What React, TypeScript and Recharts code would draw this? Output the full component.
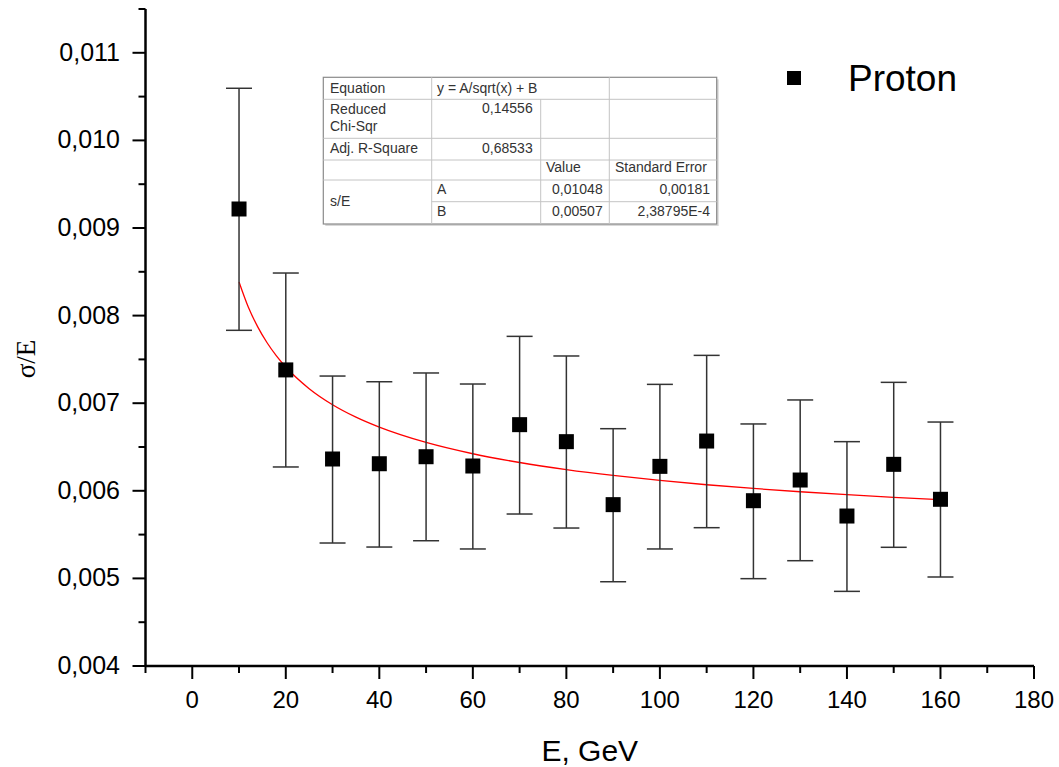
import React from "react";
import { ComposedChart, XAxis, YAxis, Scatter, Line, ErrorBar } from "recharts";

// ---- data ----
const energies = [10, 20, 30, 40, 50, 60, 70, 80, 90, 100, 110, 120, 130, 140, 150, 160];
const sigmaOverE = [
  0.009217, 0.00738, 0.006363, 0.006309, 0.006389, 0.006283, 0.006755, 0.006561,
  0.005842, 0.006279, 0.006568, 0.005887, 0.006123, 0.005712, 0.006302, 0.005903,
];
const errorUpper = [
  0.010595, 0.008486, 0.00731, 0.007245, 0.007345, 0.007219, 0.007763, 0.007539,
  0.006709, 0.007215, 0.007546, 0.006763, 0.007037, 0.006561, 0.007238, 0.006785,
];
const errorLower = [
  0.007832, 0.006272, 0.005404, 0.005358, 0.00543, 0.005336, 0.005735, 0.005575,
  0.004962, 0.005336, 0.005579, 0.004997, 0.005202, 0.004852, 0.005355, 0.005016,
];
const fitEnergies = [10, 12, 14, 16, 18, 20, 25, 30, 35, 40, 50, 60, 70, 80, 90, 100, 110, 120, 130, 140, 150, 160];
const fitValues = [
  0.008384, 0.008095, 0.007871, 0.00769, 0.00754, 0.007413, 0.007166, 0.006983, 0.006841,
  0.006727, 0.006552, 0.006423, 0.006323, 0.006242, 0.006175, 0.006118, 0.006069, 0.006027,
  0.005989, 0.005956, 0.005926, 0.005899,
];
const xTicks = [-10, 0, 10, 20, 30, 40, 50, 60, 70, 80, 90, 100, 110, 120, 130, 140, 150, 160, 170, 180];
const xMajor = [0, 20, 40, 60, 80, 100, 120, 140, 160, 180];
const yTicks = [
  0.004, 0.0045, 0.005, 0.0055, 0.006, 0.0065, 0.007, 0.0075, 0.008, 0.0085, 0.009, 0.0095,
  0.01, 0.0105, 0.011, 0.0115,
];
const yMajor = [0.004, 0.005, 0.006, 0.007, 0.008, 0.009, 0.01, 0.011];
const yMajorLabels = ["0,004", "0,005", "0,006", "0,007", "0,008", "0,009", "0,010", "0,011"];
const seriesName = "Proton";
const xTitle = "E, GeV";
const yTitle = "σ/E";

// fit-result table contents
const fitEquation = "y = A/sqrt(x) + B";
const fitChiSqr = "0,14556";
const fitAdjR2 = "0,68533";
const fitParamNames = ["A", "B"];
const fitParamValues = ["0,01048", "0,00507"];
const fitParamErrors = ["0,00181", "2,38795E-4"];

const points = energies.map((e, i) => ({
  x: e,
  y: sigmaOverE[i],
  err: [sigmaOverE[i] - errorLower[i], errorUpper[i] - sigmaOverE[i]],
}));
const fitData = fitEnergies.map((e, i) => ({ x: e, y: fitValues[i] }));

const FONT = '"Liberation Sans", Arial, sans-serif';

const near = (a: number, b: number) => Math.abs(a - b) < 1e-9;

const XTick = (props: any) => {
  const { x, y, payload } = props;
  const v = payload.value;
  const major = xMajor.some((m) => near(m, v));
  return (
    <g>
      <line x1={x} x2={x} y1={y} y2={y + (major ? 13 : 7)} stroke="#000" strokeWidth={2} />
      {major && (
        <text x={x} y={y + 42} textAnchor="middle" fontSize={24} fontFamily={FONT} fill="#000">
          {String(v)}
        </text>
      )}
    </g>
  );
};

const YTick = (props: any) => {
  const { x, y, payload } = props;
  const v = payload.value;
  const idx = yMajor.findIndex((m) => near(m, v));
  const major = idx >= 0;
  return (
    <g>
      <line x1={x} x2={x - (major ? 13 : 7)} y1={y} y2={y} stroke="#000" strokeWidth={2} />
      {major && (
        <text x={x - 25.5} y={y + 8} textAnchor="end" fontSize={25} fontFamily={FONT} fill="#000">
          {yMajorLabels[idx]}
        </text>
      )}
    </g>
  );
};

const SquareShape = (props: any) => {
  const { cx, cy } = props;
  if (cx == null || cy == null) return null;
  return <rect x={cx - 7.5} y={cy - 7.5} width={15} height={15} fill="#000" />;
};

const XTitle = (props: any) => {
  const vb = props.viewBox || {};
  return (
    <text x={vb.x + vb.width / 2} y={vb.y + 95} textAnchor="middle" fontSize={30} fontFamily={FONT} fill="#000">
      {xTitle}
    </text>
  );
};

const YTitle = () => (
  <text
    x={35}
    y={359}
    transform="rotate(-90, 35, 359)"
    textAnchor="middle"
    fontSize={27}
    fontFamily='"Liberation Serif", "Times New Roman", serif'
    fill="#000"
  >
    {yTitle}
  </text>
);

const FitTable = () => {
  const c = [323.3, 431.7, 540.7, 609.3, 716.7];
  const r = [77.3, 99.3, 138.3, 160, 180, 201.7, 224];
  const inner = "#c4c4c4";
  const ts = { fontSize: 14, fontFamily: FONT, fill: "#333" } as const;
  return (
    <g>
      <rect x={c[0] + 2} y={r[0] + 2} width={c[4] - c[0]} height={r[6] - r[0]} fill="#d8d8d8" />
      <rect x={c[0]} y={r[0]} width={c[4] - c[0]} height={r[6] - r[0]} fill="#fff" stroke="#8a8a8a" strokeWidth={1.2} />
      {[r[1], r[2], r[3], r[4]].map((yy, i) => (
        <line key={"h" + i} x1={c[0]} x2={c[4]} y1={yy} y2={yy} stroke={inner} strokeWidth={1} />
      ))}
      <line x1={c[1]} x2={c[4]} y1={r[5]} y2={r[5]} stroke={inner} strokeWidth={1} />
      <line x1={c[1]} x2={c[1]} y1={r[0]} y2={r[6]} stroke={inner} strokeWidth={1} />
      <line x1={c[2]} x2={c[2]} y1={r[1]} y2={r[6]} stroke={inner} strokeWidth={1} />
      <line x1={c[3]} x2={c[3]} y1={r[0]} y2={r[6]} stroke={inner} strokeWidth={1} />
      <text x={330} y={92.7} {...ts}>Equation</text>
      <text x={437} y={92.7} {...ts}>{fitEquation}</text>
      <text x={330} y={114.3} {...ts}>Reduced</text>
      <text x={330} y={131} {...ts}>Chi-Sqr</text>
      <text x={532.7} y={112.7} textAnchor="end" {...ts}>{fitChiSqr}</text>
      <text x={330} y={152.7} {...ts}>Adj. R-Square</text>
      <text x={532.7} y={152.7} textAnchor="end" {...ts}>{fitAdjR2}</text>
      <text x={546} y={172.3} {...ts}>Value</text>
      <text x={615} y={172.3} {...ts}>Standard Error</text>
      <text x={330} y={206} {...ts}>s/E</text>
      {fitParamNames.map((n, i) => (
        <g key={n}>
          <text x={437} y={194 + i * 21.7} {...ts}>{n}</text>
          <text x={602.7} y={194 + i * 21.7} textAnchor="end" {...ts}>{fitParamValues[i]}</text>
          <text x={710} y={194 + i * 21.7} textAnchor="end" {...ts}>{fitParamErrors[i]}</text>
        </g>
      ))}
    </g>
  );
};

export default function App() {
  return (
    <div style={{ position: "absolute", left: 0, top: 0, width: 1059, height: 767, background: "#fff" }}>
      <ComposedChart width={1059} height={767} margin={{ top: 9, right: 25, left: 0, bottom: 0 }}>
        <XAxis
          dataKey="x"
          type="number"
          domain={[-10, 180]}
          ticks={xTicks}
          interval={0}
          allowDataOverflow
          height={101}
          axisLine={{ stroke: "#000", strokeWidth: 2.5 }}
          tickLine={false}
          tickSize={0}
          tickMargin={0}
          tick={<XTick />}
          label={<XTitle />}
        />
        <YAxis
          dataKey="y"
          type="number"
          domain={[0.004, 0.0115]}
          ticks={yTicks}
          interval={0}
          allowDataOverflow
          width={145.5}
          axisLine={{ stroke: "#000", strokeWidth: 2.5 }}
          tickLine={false}
          tickSize={0}
          tickMargin={0}
          tick={<YTick />}
        />
        <Line
          data={fitData}
          dataKey="y"
          type="monotone"
          stroke="#ff0000"
          strokeWidth={1.3}
          dot={false}
          activeDot={false}
          isAnimationActive={false}
        />
        <Scatter data={points} dataKey="y" shape={<SquareShape />} isAnimationActive={false}>
          <ErrorBar dataKey="err" direction="y" width={13} stroke="#333" strokeWidth={1.5} isAnimationActive={false} />
        </Scatter>
      </ComposedChart>
      <svg
        width={1059}
        height={767}
        style={{ position: "absolute", left: 0, top: 0, pointerEvents: "none" }}
      >
        <YTitle />
        <FitTable />
        <rect x={787} y={71} width={14} height={14} fill="#000" />
        <text x={848} y={90.7} fontSize={37} fontFamily={FONT} fill="#000">
          {seriesName}
        </text>
      </svg>
    </div>
  );
}
